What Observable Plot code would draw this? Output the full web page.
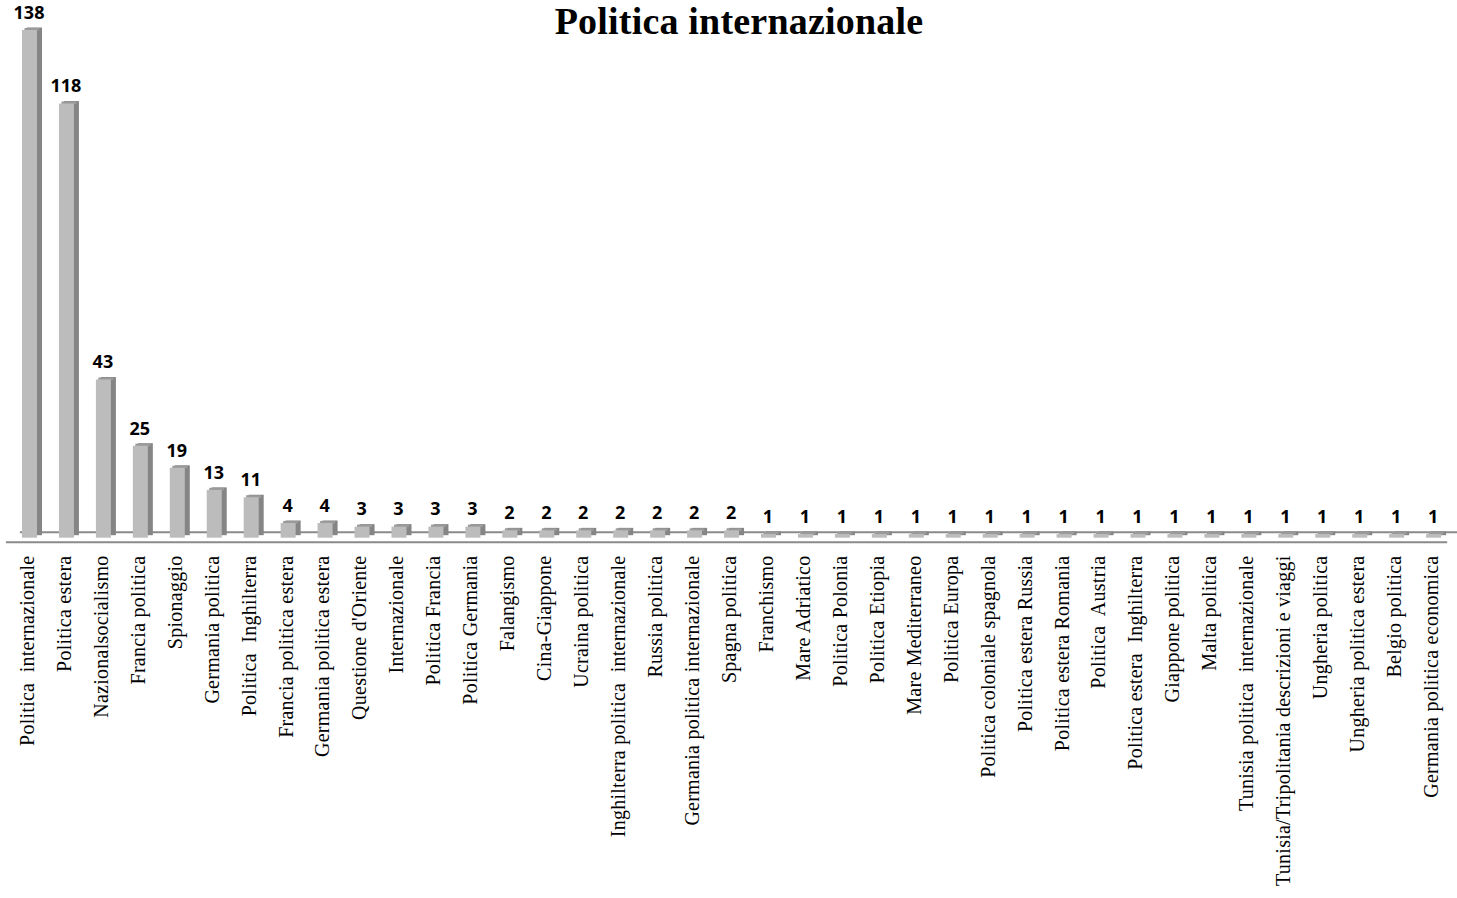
<!DOCTYPE html>
<html><head><meta charset="utf-8">
<script src="https://cdn.jsdelivr.net/npm/d3@7"></script>
<script src="https://cdn.jsdelivr.net/npm/@observablehq/plot@0.6"></script>
<style>
body{margin:0;background:#fff}
#wrap{position:relative;width:1457px;height:898px}
#title{position:absolute;left:739px;top:0;transform:translateX(-50%);font-family:"Liberation Serif",serif;font-weight:bold;font-size:38px;line-height:42px;white-space:nowrap;color:#000;letter-spacing:0.2px}
</style></head><body>
<div id="wrap"><div id="title">Politica internazionale</div></div>
<script>
const categories = [
  "Politica  internazionale","Politica estera","Nazionalsocialismo","Francia politica","Spionaggio",
  "Germania politica","Politica  Inghilterra","Francia politica estera","Germania politica estera","Questione d'Oriente",
  "Internazionale","Politica Francia","Politica Germania","Falangismo","Cina-Giappone",
  "Ucraina politica","Inghilterra politica  internazionale","Russia politica","Germania politica internazionale","Spagna politica",
  "Franchismo","Mare Adriatico","Politica Polonia","Politica Etiopia","Mare Mediterraneo",
  "Politica Europa","Politica coloniale spagnola","Politica estera Russia","Politica estera Romania","Politica  Austria",
  "Politica estera  Inghilterra","Giappone politica","Malta politica","Tunisia politica  internazionale","Tunisia/Tripolitania descrizioni e viaggi",
  "Ungheria politica","Ungheria politica estera","Belgio politica","Germania politica economica"
];
const values = [
  138,118,43,25,19,
  13,11,4,4,3,
  3,3,3,2,2,
  2,2,2,2,2,
  1,1,1,1,1,
  1,1,1,1,1,
  1,1,1,1,1,
  1,1,1,1
];
const data = categories.map((c, i) => ({category: c, value: values[i]}));

const plot = Plot.plot({
  width: 1457, height: 898,
  marginLeft: 10.9, marginRight: 4.8, marginTop: 30, marginBottom: 360.3,
  style: {background: "transparent", color: "#000"},
  x: {domain: categories, paddingInner: 0.594, paddingOuter: 0.3, round: false, label: null, axis: null},
  y: {domain: [0, 138], axis: null},
  marks: [
    Plot.ruleY([0], {dy: -6, dx: 9, stroke: "#8a8a8a", strokeWidth: 2}),
    Plot.ruleY([0], {dy: 4, dx: -5, stroke: "#8a8a8a", strokeWidth: 2}),
    Plot.rectY(data, {x: "category", y: "value", dx: 5, dy: -2.5, fill: "#858585"}),
    Plot.tickY(data, {x: "category", y: "value", dx: 2.5, dy: -1.3, stroke: "#9a9a9a", strokeWidth: 2.5}),
    Plot.rectY(data, {x: "category", y: "value", fill: "#bcbcbc"}),
    Plot.text(data, {x: "category", y: "value", text: "value", dy: -11.7, dx: -1, lineAnchor: "bottom",
      fontFamily: "Open Sans", fontWeight: 700, fontSize: 18, fill: "#000"}),
    Plot.axisX({tickRotate: -90, tickSize: 0, tickPadding: 17.3, fontSize: 20, fontFamily: "Liberation Serif",
      dx: -2.5, label: null, fill: "#000"})
  ]
});
d3.select(plot).selectAll("[aria-label='x-axis tick label'] text").style("letter-spacing", "0.25px");
document.getElementById("wrap").appendChild(plot);
</script>
</body></html>
